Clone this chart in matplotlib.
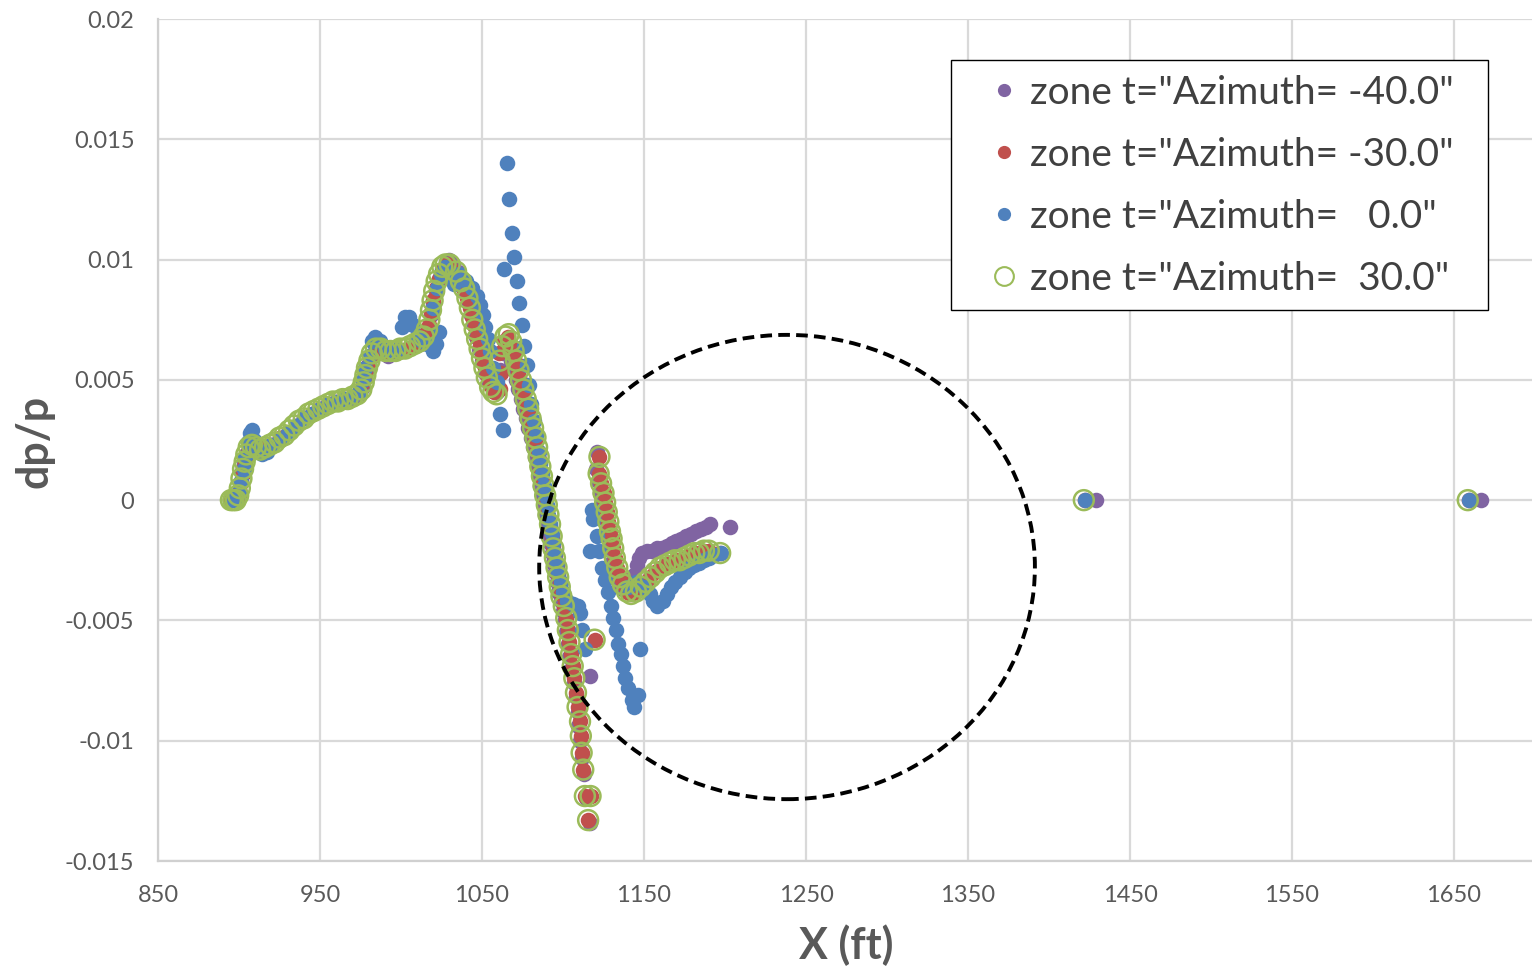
import matplotlib
matplotlib.use("Agg")
import matplotlib.pyplot as plt
from matplotlib.patches import Ellipse, Rectangle
from matplotlib.ticker import FixedLocator, FuncFormatter
from matplotlib.lines import Line2D

plt.rcParams["font.family"] = ["Lato", "DejaVu Sans"]

# ---------------------------------------------------------------
#  data (X in ft, dp/p)
# ---------------------------------------------------------------

# zone t="Azimuth= -40.0"
az_m40_x = [895.0, 897.0, 899.0, 900.0, 901.0, 902.0, 903.0, 904.5, 906.0, 908.0,
            911.0, 915.0, 920.0, 925.0, 930.0, 935.0, 940.0, 945.0, 950.0, 955.0,
            960.0, 965.0, 970.0, 974.0, 976.5, 978.0, 979.5, 981.5, 984.0, 988.0,
            992.0, 996.0, 1000.0, 1004.0, 1008.0, 1012.0, 1015.0, 1017.0, 1018.5, 1020.0,
            1021.5, 1023.5, 1025.5, 1027.5, 1029.5, 1032.0, 1035.0, 1038.0, 1040.0, 1042.0,
            1043.5, 1045.0, 1046.5, 1048.0, 1050.0, 1052.0, 1054.5, 1057.0, 1059.5, 1061.0,
            1063.0, 1065.0, 1066.5, 1068.0, 1069.5, 1071.0, 1072.5, 1074.0, 1075.5, 1077.0,
            1078.5, 1080.0, 1081.5, 1083.0, 1084.0, 1085.0, 1086.0, 1087.0, 1088.0, 1089.0,
            1090.0, 1091.0, 1092.0, 1093.0, 1094.0, 1095.0, 1096.0, 1097.0, 1098.5, 1100.0,
            1101.0, 1102.0, 1103.0, 1104.0, 1105.0, 1106.5, 1108.0, 1109.0, 1109.5, 1110.5,
            1111.5, 1113.0, 1114.5, 1116.5, 1116.5,
            1121.0, 1120.5, 1121.5, 1123.0, 1124.5, 1126.0, 1127.0, 1128.0, 1129.0, 1130.0,
            1131.0, 1132.0, 1133.5, 1135.0, 1137.0, 1139.5, 1142.0, 1144.0, 1145.5, 1147.0,
            1149.0, 1152.0, 1155.0, 1158.0, 1161.0, 1164.0, 1167.0, 1170.0, 1173.0, 1176.0,
            1179.0, 1182.0, 1185.0, 1188.0, 1191.0, 1203.0,
            1429.0, 1666.5]
az_m40_y = [0.0000, 0.0000, 0.0001, 0.0004, 0.0008, 0.0012, 0.0015, 0.0019, 0.0021, 0.0022,
            0.0021, 0.0022, 0.0023, 0.0026, 0.0028, 0.0031, 0.0034, 0.0036, 0.0038, 0.0040,
            0.0041, 0.0042, 0.0042, 0.0044, 0.0047, 0.0051, 0.0055, 0.0059, 0.0062, 0.0061,
            0.0060, 0.0061, 0.0062, 0.0063, 0.0064, 0.0065, 0.0068, 0.0072, 0.0077, 0.0082,
            0.0087, 0.0092, 0.0096, 0.0099, 0.0100, 0.0098, 0.0095, 0.0090, 0.0086, 0.0082,
            0.0077, 0.0073, 0.0068, 0.0063, 0.0058, 0.0053, 0.0049, 0.0046, 0.0045, 0.0054,
            0.0061, 0.0064, 0.0062, 0.0058, 0.0054, 0.0050, 0.0046, 0.0042, 0.0038, 0.0034,
            0.0030, 0.0026, 0.0022, 0.0018, 0.0014, 0.0010, 0.0006, 0.0002, -0.0002, -0.0006,
            -0.0010, -0.0014, -0.0018, -0.0022, -0.0026, -0.0030, -0.0034, -0.0038, -0.0042, -0.0046,
            -0.0050, -0.0055, -0.0060, -0.0065, -0.0070, -0.0076, -0.0082, -0.0088, -0.0094, -0.0100,
            -0.0107, -0.0114, -0.0124, -0.0134, -0.0073,
            0.0020, 0.0013, 0.0008, 0.0003, -0.0001, -0.0005, -0.0009, -0.0013, -0.0017, -0.0021,
            -0.0025, -0.0029, -0.0032, -0.0035, -0.0037, -0.0037, -0.0035, -0.0031, -0.0027, -0.0024,
            -0.0022, -0.0021, -0.0021, -0.0020, -0.0020, -0.0019, -0.0018, -0.0017, -0.0016, -0.0015,
            -0.0014, -0.0013, -0.0012, -0.0011, -0.0010, -0.0011,
            0.0, 0.0]

# zone t="Azimuth= -30.0"
az_m30_x = [895.0, 897.0, 899.0, 900.5, 901.5, 902.5, 903.5, 904.5, 906.0, 908.0,
            911.0, 915.0, 920.0, 925.0, 930.0, 935.0, 940.0, 945.0, 950.0, 955.0,
            960.0, 965.0, 970.0, 974.0, 976.5, 978.0, 979.5, 981.5, 984.5, 988.0,
            992.0, 996.0, 1000.0, 1004.0, 1008.0, 1012.0, 1015.0, 1017.0, 1018.5, 1020.0,
            1021.5, 1023.5, 1026.0, 1028.5, 1030.5, 1033.0, 1036.0, 1038.5, 1040.5, 1042.5,
            1044.0, 1045.5, 1047.0, 1048.5, 1050.0, 1051.5, 1053.0, 1055.0, 1057.5, 1060.5,
            1062.0, 1061.0, 1063.5, 1066.0, 1068.0, 1069.5, 1071.0, 1072.5, 1074.0, 1075.5,
            1077.0, 1078.5, 1080.0, 1081.5, 1083.0, 1084.0, 1085.0, 1086.0, 1087.0, 1088.0,
            1089.0, 1090.0, 1091.0, 1092.0, 1093.0, 1094.0, 1095.0, 1096.0, 1097.0, 1098.0,
            1099.0, 1100.5, 1102.0, 1103.0, 1104.0, 1105.0, 1106.0, 1107.0, 1108.0, 1109.0,
            1110.5, 1111.0, 1111.5, 1112.5, 1113.5, 1117.0, 1115.5, 1119.5,
            1122.5, 1122.0, 1123.5, 1125.0, 1126.0, 1127.0, 1128.0, 1129.0, 1130.0, 1131.0,
            1132.0, 1133.5, 1135.0, 1137.0, 1139.5, 1142.0, 1145.0, 1148.0, 1151.0, 1154.0,
            1157.0, 1160.0, 1163.0, 1166.0, 1169.0, 1172.0, 1175.0, 1178.0, 1181.0, 1184.0,
            1187.0, 1190.0, 1197.0,
            1422.0, 1659.0]
az_m30_y = [0.0000, 0.0000, 0.0000, 0.0003, 0.0007, 0.0011, 0.0015, 0.0018, 0.0021, 0.0022,
            0.0021, 0.0022, 0.0023, 0.0026, 0.0028, 0.0031, 0.0034, 0.0036, 0.0038, 0.0040,
            0.0041, 0.0042, 0.0043, 0.0045, 0.0049, 0.0053, 0.0056, 0.0060, 0.0062, 0.0062,
            0.0061, 0.0061, 0.0062, 0.0063, 0.0064, 0.0066, 0.0069, 0.0073, 0.0078, 0.0083,
            0.0088, 0.0092, 0.0096, 0.0098, 0.0097, 0.0095, 0.0091, 0.0088, 0.0084, 0.0080,
            0.0076, 0.0072, 0.0068, 0.0064, 0.0060, 0.0056, 0.0052, 0.0048, 0.0045, 0.0061,
            0.0053, 0.0046, 0.0066, 0.0068, 0.0064, 0.0061, 0.0057, 0.0053, 0.0049, 0.0045,
            0.0041, 0.0037, 0.0033, 0.0029, 0.0025, 0.0021, 0.0017, 0.0013, 0.0009, 0.0005,
            0.0001, -0.0003, -0.0007, -0.0011, -0.0015, -0.0019, -0.0023, -0.0027, -0.0031, -0.0035,
            -0.0039, -0.0044, -0.0049, -0.0054, -0.0059, -0.0064, -0.0069, -0.0074, -0.0080, -0.0086,
            -0.0092, -0.0098, -0.0105, -0.0112, -0.0123, -0.0123, -0.0133, -0.0058,
            0.0018, 0.0011, 0.0007, 0.0003, -0.0001, -0.0005, -0.0009, -0.0013, -0.0016, -0.0020,
            -0.0024, -0.0028, -0.0032, -0.0035, -0.0038, -0.0039, -0.0038, -0.0036, -0.0034, -0.0032,
            -0.0030, -0.0028, -0.0027, -0.0026, -0.0025, -0.0025, -0.0024, -0.0023, -0.0022, -0.0022,
            -0.0021, -0.0021, -0.0022,
            0.0, 0.0]

# zone t="Azimuth=   0.0"
az_0_x = [895.5, 898.0, 900.0, 901.5, 903.0, 904.0, 905.5, 906.5, 908.0, 909.5,
          911.5, 914.0, 917.0, 920.0, 925.0, 930.0, 935.0, 940.0, 945.0, 950.0,
          955.0, 960.0, 965.0, 970.0, 974.0, 976.5, 978.0, 980.0, 982.0, 984.0,
          987.0, 990.0, 994.0, 998.0, 1000.5, 1002.5, 1005.0, 1007.5, 1010.0, 1013.0,
          1016.0, 1019.5, 1021.5, 1023.5, 1020.0, 1022.0, 1024.5, 1027.0, 1030.0, 1033.0,
          1035.5, 1040.0, 1044.0, 1047.0, 1049.0, 1050.5, 1052.0, 1053.5, 1055.0, 1057.0,
          1059.0, 1061.0, 1063.0,
          1063.5, 1065.5, 1066.5, 1068.5, 1070.0, 1071.5, 1073.0, 1074.5, 1076.0, 1077.5,
          1079.0, 1080.5, 1082.0, 1083.5, 1085.0, 1086.0, 1087.0, 1088.0, 1089.0, 1090.0,
          1091.0, 1092.0, 1093.0, 1094.0, 1095.0, 1096.0, 1097.0, 1098.5, 1100.0, 1102.5,
          1106.0, 1109.0, 1110.5, 1112.0, 1113.5,
          1118.0, 1118.5, 1116.5, 1121.0, 1122.5, 1124.0, 1126.0, 1127.8, 1129.5, 1131.0,
          1132.5, 1134.0, 1135.5, 1137.0, 1138.5, 1140.0, 1142.5, 1144.0, 1146.0, 1147.5,
          1140.0, 1145.0, 1150.0, 1153.5, 1155.5, 1158.0, 1161.5, 1164.0, 1166.5, 1169.0,
          1172.0, 1175.0, 1178.0, 1181.0, 1184.0, 1187.0, 1190.0, 1193.0, 1197.5,
          1422.5, 1659.5]
az_0_y = [0.0000, 0.0000, 0.0003, 0.0008, 0.0013, 0.0018, 0.0024, 0.0028, 0.0029, 0.0025,
          0.0021, 0.0019, 0.0020, 0.0023, 0.0025, 0.0028, 0.0031, 0.0034, 0.0036, 0.0038,
          0.0040, 0.0041, 0.0042, 0.0043, 0.0045, 0.0050, 0.0055, 0.0060, 0.0066, 0.0068,
          0.0066, 0.0063, 0.0062, 0.0063, 0.0072, 0.0076, 0.0076, 0.0073, 0.0068, 0.0066,
          0.0065, 0.0062, 0.0065, 0.0070, 0.0080, 0.0088, 0.0094, 0.0097, 0.0093, 0.0090,
          0.0094, 0.0091, 0.0088, 0.0085, 0.0081, 0.0077, 0.0072, 0.0067, 0.0062, 0.0055,
          0.0049, 0.0036, 0.0029,
          0.0096, 0.0140, 0.0125, 0.0111, 0.0101, 0.0091, 0.0082, 0.0073, 0.0064, 0.0056,
          0.0048, 0.0040, 0.0033, 0.0027, 0.0020, 0.0015, 0.0011, 0.0006, 0.0002, -0.0002,
          -0.0006, -0.0010, -0.0014, -0.0018, -0.0022, -0.0026, -0.0030, -0.0034, -0.0038, -0.0042,
          -0.0043, -0.0044, -0.0047, -0.0054, -0.0062,
          -0.0004, -0.0008, -0.0021, -0.0015, -0.0021, -0.0028, -0.0033, -0.0038, -0.0044, -0.0049,
          -0.0054, -0.0060, -0.0064, -0.0069, -0.0074, -0.0078, -0.0083, -0.0086, -0.0081, -0.0062,
          -0.0036, -0.0034, -0.0036, -0.0039, -0.0042, -0.0044, -0.0042, -0.0039, -0.0036, -0.0034,
          -0.0032, -0.0030, -0.0028, -0.0027, -0.0026, -0.0025, -0.0024, -0.0023, -0.0022,
          0.0, 0.0]

# zone t="Azimuth=  30.0"
az_30_x = [895.0, 896.5, 898.0, 899.5, 900.5, 901.5, 902.5, 903.5, 904.5, 906.0,
           908.0, 910.5, 913.0, 916.0, 919.0, 922.0, 925.0, 928.0, 931.0, 934.0,
           937.0, 940.0, 943.0, 946.0, 949.0, 952.0, 955.0, 958.0, 961.0, 964.0,
           967.0, 970.0, 973.0, 975.5, 977.0, 978.0, 979.0, 980.5, 982.0, 984.5,
           987.5, 990.5, 993.5, 996.5, 999.5, 1002.5, 1005.5, 1008.5, 1011.5, 1014.0,
           1016.0, 1017.5, 1018.5, 1019.5, 1020.5, 1022.0, 1023.5, 1025.5, 1027.5, 1030.0,
           1034.0, 1037.0, 1039.0, 1041.0, 1042.5, 1044.0, 1045.5, 1047.0, 1048.5, 1050.0,
           1051.5, 1053.0, 1055.0, 1057.0, 1059.0,
           1061.0, 1062.5, 1064.5, 1066.5, 1068.0, 1069.5, 1071.0, 1072.5, 1074.0, 1075.5,
           1077.0, 1078.5, 1080.0, 1081.5, 1083.0, 1084.0, 1085.0, 1086.0, 1087.0, 1088.0,
           1089.0, 1090.0, 1091.0, 1092.0, 1093.0, 1094.0, 1095.0, 1096.0, 1097.0, 1098.0,
           1099.0, 1100.5, 1102.0, 1103.0, 1104.0, 1105.0, 1106.0, 1107.0, 1108.0, 1109.0,
           1110.5, 1111.0, 1111.5, 1112.5, 1113.5, 1117.0, 1115.5, 1119.5,
           1122.5, 1122.0, 1123.5, 1125.0, 1126.0, 1127.0, 1128.0, 1129.0, 1130.0, 1131.0,
           1132.0, 1133.5, 1135.0, 1137.0, 1139.5, 1142.0, 1145.0, 1148.0, 1151.0, 1154.0,
           1157.0, 1160.0, 1163.0, 1166.0, 1169.0, 1172.0, 1175.0, 1178.0, 1181.0, 1184.0,
           1187.0, 1190.0, 1197.0,
           1421.5, 1658.5]
az_30_y = [0.0000, 0.0000, 0.0000, 0.0002, 0.0005, 0.0009, 0.0013, 0.0016, 0.0019, 0.0022,
           0.0023, 0.0022, 0.0021, 0.0022, 0.0023, 0.0024, 0.0026, 0.0027, 0.0029, 0.0031,
           0.0033, 0.0034, 0.0036, 0.0037, 0.0038, 0.0039, 0.0040, 0.0041, 0.0041, 0.0042,
           0.0042, 0.0043, 0.0044, 0.0046, 0.0049, 0.0052, 0.0055, 0.0058, 0.0061, 0.0063,
           0.0063, 0.0062, 0.0062, 0.0062, 0.0063, 0.0063, 0.0064, 0.0065, 0.0066, 0.0068,
           0.0071, 0.0075, 0.0079, 0.0083, 0.0087, 0.0091, 0.0094, 0.0097, 0.0098, 0.0098,
           0.0095, 0.0091, 0.0088, 0.0084, 0.0080, 0.0075, 0.0071, 0.0067, 0.0063, 0.0059,
           0.0055, 0.0051, 0.0047, 0.0045, 0.0044,
           0.0058, 0.0064, 0.0068, 0.0069, 0.0066, 0.0062, 0.0058, 0.0054, 0.0050, 0.0046,
           0.0042, 0.0038, 0.0034, 0.0030, 0.0026, 0.0022, 0.0018, 0.0014, 0.0010, 0.0006,
           0.0002, -0.0002, -0.0006, -0.0010, -0.0015, -0.0020, -0.0024, -0.0028, -0.0032, -0.0036,
           -0.0040, -0.0044, -0.0049, -0.0054, -0.0059, -0.0064, -0.0069, -0.0074, -0.0080, -0.0086,
           -0.0092, -0.0098, -0.0105, -0.0112, -0.0123, -0.0123, -0.0133, -0.0058,
           0.0018, 0.0011, 0.0007, 0.0003, -0.0001, -0.0005, -0.0009, -0.0013, -0.0016, -0.0020,
           -0.0024, -0.0028, -0.0032, -0.0035, -0.0038, -0.0039, -0.0038, -0.0036, -0.0034, -0.0032,
           -0.0030, -0.0028, -0.0027, -0.0026, -0.0025, -0.0025, -0.0024, -0.0023, -0.0022, -0.0022,
           -0.0021, -0.0021, -0.0022,
           0.0, 0.0]

series_labels = ['zone t="Azimuth= -40.0"', 'zone t="Azimuth= -30.0"',
                 'zone t="Azimuth=   0.0"', 'zone t="Azimuth=  30.0"']

x_ticks = [850, 950, 1050, 1150, 1250, 1350, 1450, 1550, 1650]
y_ticks = [-0.015, -0.01, -0.005, 0, 0.005, 0.01, 0.015, 0.02]

# dashed circle marking the region of interest
circle_center = (1238.3, -0.00278)
circle_w = 306.0
circle_h = 0.0193

PURPLE = "#8064A2"
RED = "#C0504D"
BLUE = "#4F81BD"
GREEN = "#9BBB59"
GRID = "#D9D9D9"
TXT = "#595959"

W, H = 1532, 968
fig = plt.figure(figsize=(W / 100, H / 100), dpi=100)
ax = fig.add_axes([158 / W, 1 - 861 / H, (1535 - 158) / W, (861 - 19) / H])

dot_s = 125
ax.scatter(az_m40_x, az_m40_y, s=dot_s, color=PURPLE, linewidths=0, zorder=3)
ax.scatter(az_m30_x, az_m30_y, s=dot_s, color=RED, linewidths=0, zorder=4)
ax.scatter(az_0_x, az_0_y, s=dot_s, color=BLUE, linewidths=0, zorder=5)
ax.scatter(az_30_x, az_30_y, s=205, facecolors="none", edgecolors=GREEN,
           linewidths=1.8, zorder=6)

ax.add_patch(Ellipse(circle_center, circle_w, circle_h, fill=False,
                     edgecolor="black", lw=2.8, ls=(0, (3.0, 1.6)), zorder=7))

ax.set_xlim(850, 1700)
ax.set_ylim(-0.015, 0.02)
ax.xaxis.set_major_locator(FixedLocator(x_ticks))
ax.yaxis.set_major_locator(FixedLocator(y_ticks))
ax.yaxis.set_major_formatter(FuncFormatter(lambda v, p: f"{v:g}"))
ax.xaxis.set_major_formatter(FuncFormatter(lambda v, p: f"{v:g}"))
ax.tick_params(length=0, labelsize=17, labelcolor=TXT)
ax.tick_params(axis="y", pad=17)
ax.tick_params(axis="x", pad=17)

ax.grid(True, color=GRID, lw=1.6, zorder=0)
ax.set_axisbelow(True)
for side in ["top", "right"]:
    ax.spines[side].set_visible(False)
for side in ["left", "bottom"]:
    ax.spines[side].set_color("#D0D0D0")
    ax.spines[side].set_linewidth(1.6)

fig.text(846 / W, 1 - 945 / H, "X (ft)", fontsize=31, fontweight="bold", color=TXT,
         ha="center", va="center")
fig.text(34 / W, 1 - 441 / H, "dp/p", fontsize=31, fontweight="bold", color=TXT,
         ha="center", va="center", rotation=90)

# legend: frame drawn by hand so its box matches the reference
fig.patches.append(Rectangle((951 / W, 1 - 310 / H), (1488 - 951) / W, (310 - 60) / H,
                             transform=fig.transFigure, fill=True, facecolor="white",
                             edgecolor="black", lw=1.0, zorder=8))
handles = [
    Line2D([], [], ls="none", marker="o", ms=9.5, color=PURPLE, mew=0),
    Line2D([], [], ls="none", marker="o", ms=9.5, color=RED, mew=0),
    Line2D([], [], ls="none", marker="o", ms=9.5, color=BLUE, mew=0),
    Line2D([], [], ls="none", marker="o", ms=13.5, mfc="none", mec=GREEN, mew=1.5),
]
leg = fig.legend(handles, series_labels, loc="upper left",
                 bbox_to_anchor=(985 / W, 1 - 75 / H), bbox_transform=fig.transFigure,
                 borderaxespad=0, borderpad=0, fontsize=28, frameon=False,
                 handlelength=1.0, handletextpad=0.15, labelspacing=0.665)
leg.set_zorder(9)
for t in leg.get_texts():
    t.set_color("#404040")

fig.savefig("out.png", dpi=100)
